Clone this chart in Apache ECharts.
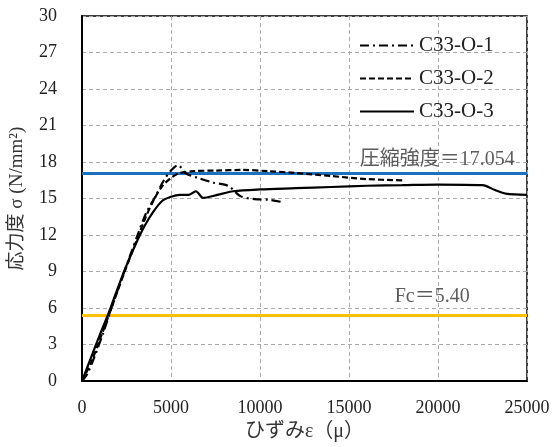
<!DOCTYPE html>
<html><head><meta charset="utf-8">
<script src="https://cdn.jsdelivr.net/npm/echarts@6/dist/echarts.min.js"></script>
<style>html,body{margin:0;padding:0;background:#fff}#c{width:556px;height:447px}</style>
</head><body><div id="c"></div>
<script>
var seriesNames = ['C33-O-1', 'C33-O-2', 'C33-O-3'];
var s1 = [[0,0],[300,0.6],[700,2.0],[1200,4.0],[1700,6.2],[2200,8.3],[2700,10.3],[3200,12.3],[3600,13.8],[4100,15.1],[4600,16.5],[5000,17.3],[5400,17.75],[5800,17.1],[6500,16.7],[7400,16.3],[8200,16.05],[8900,15.2],[9700,14.95],[10500,14.9],[11300,14.7]];
var s2 = [[0,0],[500,1.5],[1000,3.4],[1500,5.4],[2000,7.4],[2500,9.4],[3000,11.3],[3500,13.2],[4000,14.8],[4500,16.0],[5000,16.7],[5500,17.1],[6300,17.25],[7500,17.3],[9000,17.35],[10500,17.25],[12000,17.1],[14000,16.85],[16000,16.6],[18000,16.5]];
var s3 = [[0,0],[500,1.9],[1000,3.8],[1500,5.6],[2000,7.6],[2500,9.5],[3000,11.2],[3500,12.7],[4000,13.9],[4500,14.8],[5000,15.15],[5500,15.3],[6000,15.3],[6400,15.6],[6800,15.05],[7600,15.3],[8500,15.6],[10000,15.75],[12000,15.85],[14000,15.95],[16000,16.05],[18000,16.1],[20000,16.15],[22500,16.1],[23200,15.7],[23800,15.4],[25000,15.3]];
var refValues = [17.054, 5.40];
var refLabels = [['圧縮強度＝17.054', 19960, 17.054], ['Fc＝5.40', 19670, 5.40]];
var xTicks = {min: 0, max: 25000, interval: 5000};
var yTicks = {min: 0, max: 30, interval: 3};

var serif = '"Liberation Serif","Noto Sans CJK JP",serif';
var chart = echarts.init(document.getElementById('c'), null, {renderer: 'canvas'});
var dashTypes = [[9,4,2,4],[6,3],'solid'];
var series = [s1, s2, s3].map(function (d, i) {
  return {
    name: seriesNames[i], type: 'line', data: d, symbol: 'none', showSymbol: false, smooth: 0.3,
    lineStyle: {color: '#000', width: 2.2, type: dashTypes[i]},
    itemStyle: {color: '#000'}, z: 5
  };
});
series.push({
  type: 'line', data: [], symbol: 'none', silent: true,
  markLine: {
    symbol: 'none', silent: true, animation: false,
    label: {show: false},
    data: [
      {yAxis: refValues[0], lineStyle: {color: '#1F6FBF', width: 3, type: 'solid'}},
      {yAxis: refValues[1], lineStyle: {color: '#FFC000', width: 3, type: 'solid'}}
    ]
  }, z: 3
});
series.push({
  type: 'scatter', symbolSize: 0, silent: true,
  data: refLabels.map(function (r, i) { return {value: [r[1], r[2]], name: r[0],
    label: {show: true, position: 'top', distance: i === 0 ? 4 : 9, formatter: r[0],
      fontFamily: serif, fontSize: 20, color: '#333'}}; }),
  z: 6
});

chart.setOption({
  animation: false,
  backgroundColor: '#fff',
  grid: {left: 81, right: 29, top: 16, bottom: 61, show: true, borderColor: '#000', borderWidth: 1.5},
  legend: {
    orient: 'vertical', left: 354, top: 30, itemWidth: 54, itemHeight: 20, itemGap: 12,
    data: seriesNames,
    itemStyle: {opacity: 0},
    textStyle: {fontFamily: serif, fontSize: 21, color: '#222'}
  },
  xAxis: {
    type: 'value', min: xTicks.min, max: xTicks.max, interval: xTicks.interval,
    name: 'ひずみε（μ）', nameLocation: 'middle', nameGap: 40,
    nameTextStyle: {fontFamily: serif, fontSize: 20, color: '#333'},
    axisLine: {show: true, lineStyle: {color: '#000', width: 2}},
    axisTick: {show: false},
    axisLabel: {margin: 18, fontFamily: serif, fontSize: 18, color: '#222',
      formatter: function (v) { return String(v); }},
    splitLine: {show: true, lineStyle: {color: '#aaa', type: [4,3], width: 1}}
  },
  yAxis: {
    type: 'value', min: yTicks.min, max: yTicks.max, interval: yTicks.interval,
    name: '応力度 σ (N/mm²)', nameLocation: 'middle', nameGap: 55, nameRotate: 90,
    nameTextStyle: {fontFamily: serif, fontSize: 19, color: '#333'},
    axisLine: {show: true, lineStyle: {color: '#000', width: 2}},
    axisTick: {show: false},
    axisLabel: {margin: 25, fontFamily: serif, fontSize: 18, color: '#222'},
    splitLine: {show: true, lineStyle: {color: '#aaa', type: [4,3], width: 1}}
  },
  series: series
});
</script></body></html>
